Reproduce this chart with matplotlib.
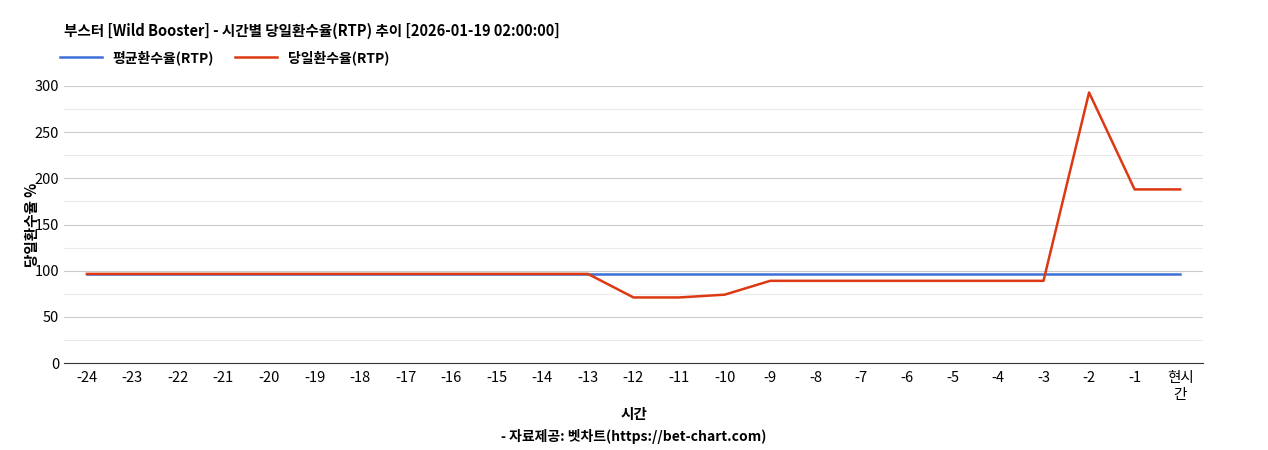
import matplotlib.pyplot as plt
from matplotlib.ticker import MultipleLocator

plt.rcParams['font.family'] = ['Noto Sans CJK KR', 'DejaVu Sans']

labels = [str(i) for i in range(-24, 0)] + ['현시\n간']
avg_rtp = [96.5] * 25
day_rtp = [96.5] * 12 + [71, 71, 74] + [89] * 7 + [293, 188, 188]

fig = plt.figure(figsize=(12.68, 4.5), dpi=100)
ax = fig.add_axes([0.0505, 0.1933, 0.8982, 0.6156])

x = list(range(len(labels)))
ax.plot(x, avg_rtp, color='#3c6fd8', lw=1.8, label='평균환수율(RTP)')
ax.plot(x, day_rtp, color='#dc3912', lw=1.8, label='당일환수율(RTP)')

ax.set_xlim(-0.5, len(labels) - 0.5)
ax.set_ylim(0, 300)
ax.yaxis.set_major_locator(MultipleLocator(50))
ax.yaxis.set_minor_locator(MultipleLocator(25))
ax.grid(axis='y', which='major', color='#cccccc', lw=0.8)
ax.grid(axis='y', which='minor', color='#ebebeb', lw=0.8)
ax.set_axisbelow(True)
ax.set_xticks(x)
ax.set_xticklabels(labels, fontsize=10.5)
ax.tick_params(axis='y', labelsize=10.5, length=0)
ax.tick_params(axis='x', length=0, pad=6)
ax.tick_params(axis='y', which='minor', length=0)
for s in ['top', 'right', 'left']:
    ax.spines[s].set_visible(False)
ax.spines['bottom'].set_color('#333333')

ax.set_ylabel('당일환수율 %', fontsize=10.5, fontweight='bold', labelpad=2)
ax.yaxis.set_label_coords(-0.021, 0.5)
fig.text(0.5, 0.068, '시간', ha='center', fontsize=10.5, fontweight='bold')
fig.text(0.5, 0.02, '- 자료제공: 벳차트(https://bet-chart.com)', ha='center', fontsize=10, fontweight='bold')
fig.text(0.0505, 0.92, '부스터 [Wild Booster] - 시간별 당일환수율(RTP) 추이 [2026-01-19 02:00:00]',
         fontsize=10.5, fontweight='bold')
ax.legend(loc='lower left', bbox_to_anchor=(-0.012, 1.04), ncol=2, frameon=False,
          prop={'weight': 'bold', 'size': 10}, handlelength=3, columnspacing=1.5,
          borderaxespad=0.3)

fig.savefig('out.png', dpi=100)
